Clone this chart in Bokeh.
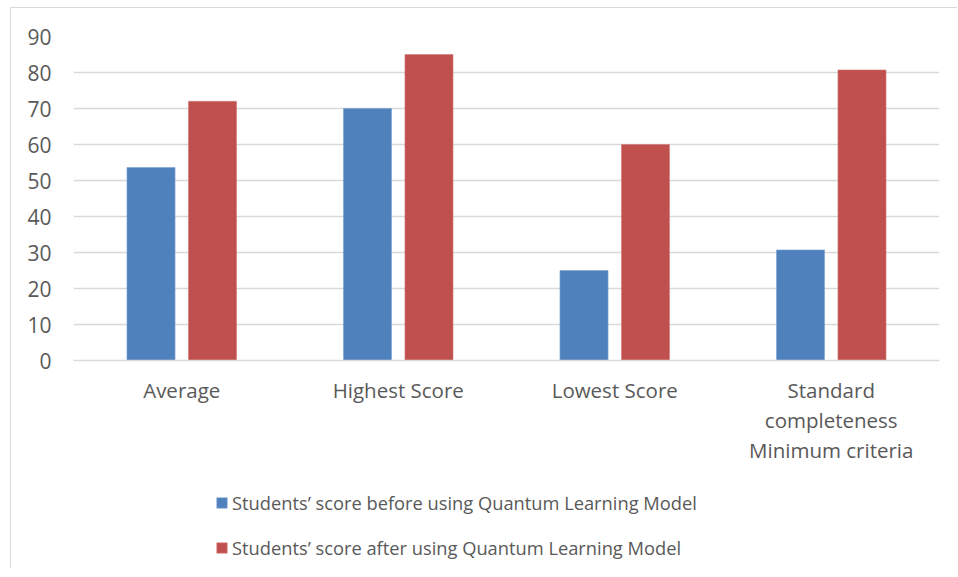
from bokeh.plotting import figure
from bokeh.layouts import column
from bokeh.models import (ColumnDataSource, FactorRange, Range1d, FixedTicker, Legend, LegendItem,
                          CategoricalAxis, CustomJSTickFormatter)
from bokeh.transform import dodge
from bokeh.embed import file_html
from bokeh.resources import INLINE

categories = ["Average", "Highest Score", "Lowest Score", "Standard completeness Minimum criteria"]
before = [53.6, 70, 25, 30.7]
after = [72, 85, 60, 80.7]
y_ticks = [0, 10, 20, 30, 40, 50, 60, 70, 80, 90]
series_names = ["Students\u2019 score before using Quantum Learning Model",
                "Students\u2019 score after using Quantum Learning Model"]
# category label lines (the last category wraps onto three lines)
label_line1 = ["Average", "Highest Score", "Lowest Score", "Standard"]
label_line2 = ["", "", "", "completeness"]
label_line3 = ["", "", "", "Minimum criteria"]

FONT = "Open Sans"
TXT = "#595959"
GRID = "#d9d9d9"
BLUE = "#4f81bd"
RED = "#c0504d"
BORDER = "1px solid #d9d9d9"

src = ColumnDataSource(dict(cats=categories, before=before, after=after))

# ---------------- main chart ----------------
p = figure(width=947, height=470, output_backend="svg", toolbar_location=None,
           x_range=FactorRange(factors=categories), y_range=Range1d(0, 90),
           min_border_left=62, min_border_right=19, min_border_top=28, min_border_bottom=118)
p.styles = {"border-top": BORDER, "border-left": BORDER}
p.outline_line_color = None
p.background_fill_color = "white"
p.border_fill_color = "white"

def add_bars(fig):
    a = fig.vbar(x=dodge("cats", -0.142, range=fig.x_range), top="before", width=0.222, source=src,
                 fill_color=BLUE, line_color="#7a9fd0", line_width=0.6)
    b = fig.vbar(x=dodge("cats", 0.142, range=fig.x_range), top="after", width=0.222, source=src,
                 fill_color=RED, line_color="#d07a78", line_width=0.6)
    return a, b

add_bars(p)

p.xgrid.grid_line_color = None
p.ygrid.grid_line_color = GRID
p.ygrid.grid_line_width = 1.5

p.yaxis.ticker = FixedTicker(ticks=y_ticks)
p.yaxis.axis_line_color = None
p.yaxis.major_tick_line_color = None
p.yaxis.minor_tick_line_color = None
p.yaxis.major_label_standoff = 16
p.yaxis.major_label_text_font = FONT
p.yaxis.major_label_text_font_size = "21px"
p.yaxis.major_label_text_color = TXT

def line_formatter(lines):
    return CustomJSTickFormatter(args=dict(cats=categories, lines=lines),
                                 code="const i = cats.indexOf(tick); return i >= 0 ? lines[i] : '';")

def style_xaxis(ax, standoff, lines):
    ax.major_tick_line_color = None
    ax.minor_tick_line_color = None
    ax.major_label_standoff = standoff
    ax.major_label_text_font = FONT
    ax.major_label_text_font_size = "20.5px"
    ax.major_label_text_color = TXT
    ax.formatter = line_formatter(lines)

xa1 = p.xaxis[0]
style_xaxis(xa1, 9, label_line1)
xa1.axis_line_color = GRID
xa1.axis_line_width = 1.5

xa2 = CategoricalAxis(axis_line_color=None)
style_xaxis(xa2, -7, label_line2)
p.add_layout(xa2, "below")

xa3 = CategoricalAxis(axis_line_color=None)
style_xaxis(xa3, -7, label_line3)
p.add_layout(xa3, "below")

# ---------------- legend strip ----------------
lg = figure(width=947, height=91, output_backend="svg", toolbar_location=None,
            x_range=FactorRange(factors=categories), y_range=Range1d(1000, 1001),
            x_axis_location=None, y_axis_location=None,
            min_border_left=0, min_border_right=0, min_border_top=0, min_border_bottom=0)
lg.styles = {"border-left": BORDER}
lg.outline_line_color = None
lg.grid.visible = False
r1, r2 = add_bars(lg)

legend = Legend(items=[LegendItem(label=series_names[0], renderers=[r1]),
                       LegendItem(label=series_names[1], renderers=[r2])],
                location=(142, 8), orientation="vertical",
                glyph_width=13, glyph_height=13, label_height=20, spacing=20,
                label_standoff=4, padding=0, margin=0,
                label_text_font=FONT, label_text_font_size="18.3px", label_text_color=TXT,
                border_line_color=None, background_fill_alpha=0)
lg.add_layout(legend, "center")

layout = column(p, lg, spacing=0)
layout.styles = {"margin-left": "10px", "margin-top": "7px"}
open("out.html", "w").write(file_html(layout, INLINE))
